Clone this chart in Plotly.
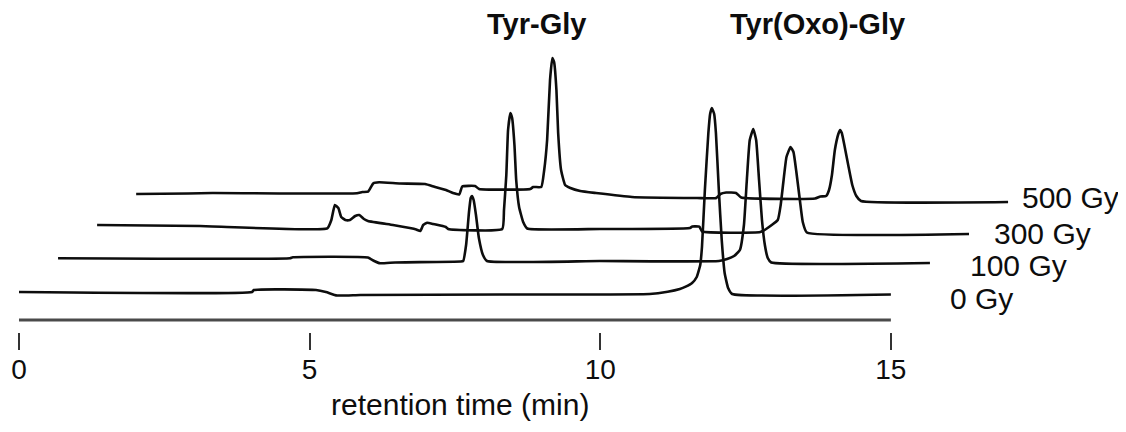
import plotly.graph_objects as go

# ---- data (retention time in min, detector signal in arbitrary units, baseline-relative) ----
doses = ["0 Gy", "100 Gy", "300 Gy", "500 Gy"]

t_0gy = [0.0, 4.01, 4.04, 5.11, 5.28, 5.47, 5.87, 8.27, 10.85, 11.16, 11.37, 11.47, 11.58,
         11.66, 11.72, 11.75, 11.80, 11.86, 11.89, 11.92, 11.96, 11.99, 12.04, 12.09, 12.14,
         12.20, 12.27, 15.0]
v_0gy = [1, 1, 3, 3, 1, -2.5, -2, -1.5, -1, 1.3, 4, 6.3, 10,
         16, 28, 46, 103, 160, 179, 185, 179, 160, 103, 53, 20,
         5, -1, -1.5]

t_100gy = [0.0, 3.99, 4.04, 5.33, 5.44, 5.54, 5.80, 6.93, 6.97, 7.02, 7.07, 7.10, 7.12, 7.15,
           7.19, 7.24, 7.31, 7.38, 9.32, 11.37, 11.51, 11.63, 11.73, 11.80, 11.85, 11.90,
           11.96, 12.01, 12.06, 12.11, 12.16, 12.21, 12.27, 15.0]
v_100gy = [1.4, 1.4, 2.4, 2.2, -1.3, -3.6, -2.8, -1.8, -1.3, 14.7, 47.7, 61.7, 63.7, 59.7,
           44.7, 21.7, 4.7, -1.3, -1.3, -1.3, 0.7, 3.7, 9.7, 34.7, 79.7, 119.7,
           130.7, 119.7, 79.7, 39.7, 14.7, 1.7, -2.8, -3.3]

t_300gy = [0.0, 1.77, 3.96, 4.03, 4.09, 4.15, 4.20, 4.27, 4.35, 4.44, 4.51, 4.59, 4.66, 5.09,
           5.38, 5.49, 5.56, 5.61, 5.68, 5.78, 6.00, 6.04, 6.97, 7.00, 7.04, 7.07, 7.11, 7.14,
           7.18, 7.21, 7.26, 7.33, 7.40, 8.65, 10.20, 10.24, 10.36, 10.41, 11.41, 11.51,
           11.71, 11.76, 11.81, 11.86, 11.93, 11.98, 12.03, 12.09, 12.14, 12.21, 15.0]
v_300gy = [1.4, 0.4, -1.9, 6.4, 21.4, 18.4, 9.4, 6.4, 6.4, 10.4, 11.4, 7.4, 5.4, 1.4,
           -1.6, -3.1, -4.6, 1.4, 3.7, 2.4, -0.6, -2.6, -2.6, 16.4, 51.4, 96.4, 113.4, 108.4,
           81.4, 46.4, 19.4, 4.4, -2.1, -2.6, -1.6, -0.1, -0.3, -5.1, -5.6, -2.6,
           6.4, 21.4, 46.4, 69.4, 79.4, 74.4, 54.4, 26.4, 4.4, -6.1, -7.6]

t_500gy = [0.0, 0.89, 1.31, 3.80, 3.89, 3.99, 4.08, 4.18, 4.54, 4.97, 5.13, 5.33, 5.45, 5.56,
           5.61, 5.83, 5.90, 6.78, 6.83, 6.97, 7.02, 7.07, 7.12, 7.16, 7.19, 7.23, 7.26, 7.31,
           7.38, 7.47, 7.64, 7.91, 8.53, 9.65, 9.98, 10.05, 10.15, 10.32, 10.41, 11.68, 11.77,
           11.87, 11.92, 11.97, 12.02, 12.08, 12.11, 12.14, 12.19, 12.25, 12.32, 12.39, 12.47, 15.0]
v_500gy = [-0.9, -0.4, 0.1, -0.2, 1.1, 1.4, 9.8, 10.8, 9.6, 9.1, 6.4, 3.1, 0.1, -1.2,
           6.6, 7.1, 4.1, 4.1, 6.1, 6.1, 23.1, 53.1, 113.1, 135.1, 131.1, 103.1, 60.1, 23.1,
           8.1, 5.1, 2.1, 0.1, -3.9, -4.9, -4.9, -0.9, 0.6, 0.1, -4.4, -5.4, -3.4,
           -2.9, 3.1, 18.1, 43.1, 59.1, 63.1, 60.1, 46.1, 28.1, 8.1, -2.9, -7.9, -8.9]

times = [t_0gy, t_100gy, t_300gy, t_500gy]
signals = [v_0gy, v_100gy, v_300gy, v_500gy]

# stacking offsets of the staggered display
offset_t = 0.672   # min per trace
offset_v = 33.3    # signal units per trace

# label positions (display coordinates)
dose_label_t = [15.98, 16.33, 16.74, 17.22]
dose_label_v = [-5, 28, 60, 96]
peak_names = ["Tyr-Gly", "Tyr(Oxo)-Gly"]
peak_label_t = [8.91, 13.73]
peak_label_v = 269

x_ticks = [0, 5, 10, 15]
x_title = "retention time (min)"

FONT = "Liberation Sans, Arial, sans-serif"
INK = "#0d0d0d"

fig = go.Figure()
for k, (t, v) in enumerate(zip(times, signals)):
    fig.add_trace(go.Scatter(
        x=[ti + k * offset_t for ti in t],
        y=[vi + k * offset_v for vi in v],
        mode="lines",
        line=dict(color=INK, width=2.6, shape="spline", smoothing=0.4),
        name=doses[k],
        showlegend=False,
        hoverinfo="skip",
    ))
    fig.add_annotation(
        x=dose_label_t[k], y=dose_label_v[k],
        text=doses[k], showarrow=False, xanchor="left", yanchor="middle",
        font=dict(family=FONT, size=30, color=INK),
    )

for name, tx in zip(peak_names, peak_label_t):
    fig.add_annotation(
        x=tx, y=peak_label_v, text="<b>%s</b>" % name, showarrow=False,
        xanchor="center", yanchor="middle",
        font=dict(family=FONT, size=29, color=INK),
    )

# separate axis line above the ticks
fig.add_shape(type="line", xref="x", yref="y", x0=x_ticks[0], x1=x_ticks[-1],
              y0=-27, y1=-27, line=dict(color="#4a4a4a", width=3))

fig.add_annotation(
    x=7.59, y=-0.225, xref="x", yref="paper", text=x_title, showarrow=False,
    xanchor="center", yanchor="middle",
    font=dict(family=FONT, size=30, color=INK),
)

# page body has an 8px margin: figure is sized/placed to compensate
fig.update_layout(
    width=1118, height=424,
    margin=dict(l=0, r=0, t=0, b=100),
    paper_bgcolor="white", plot_bgcolor="white",
    xaxis=dict(range=[-0.189, 19.045], showgrid=False, zeroline=False, showline=False,
               tickvals=x_ticks, ticktext=[str(v) for v in x_ticks],
               ticks="outside", ticklen=17, tickwidth=1.5, tickcolor="#333333",
               ticklabelstandoff=-5,
               tickfont=dict(family=FONT, size=28, color=INK)),
    yaxis=dict(range=[-39, 285], visible=False),
)

fig.write_html("out.html")
